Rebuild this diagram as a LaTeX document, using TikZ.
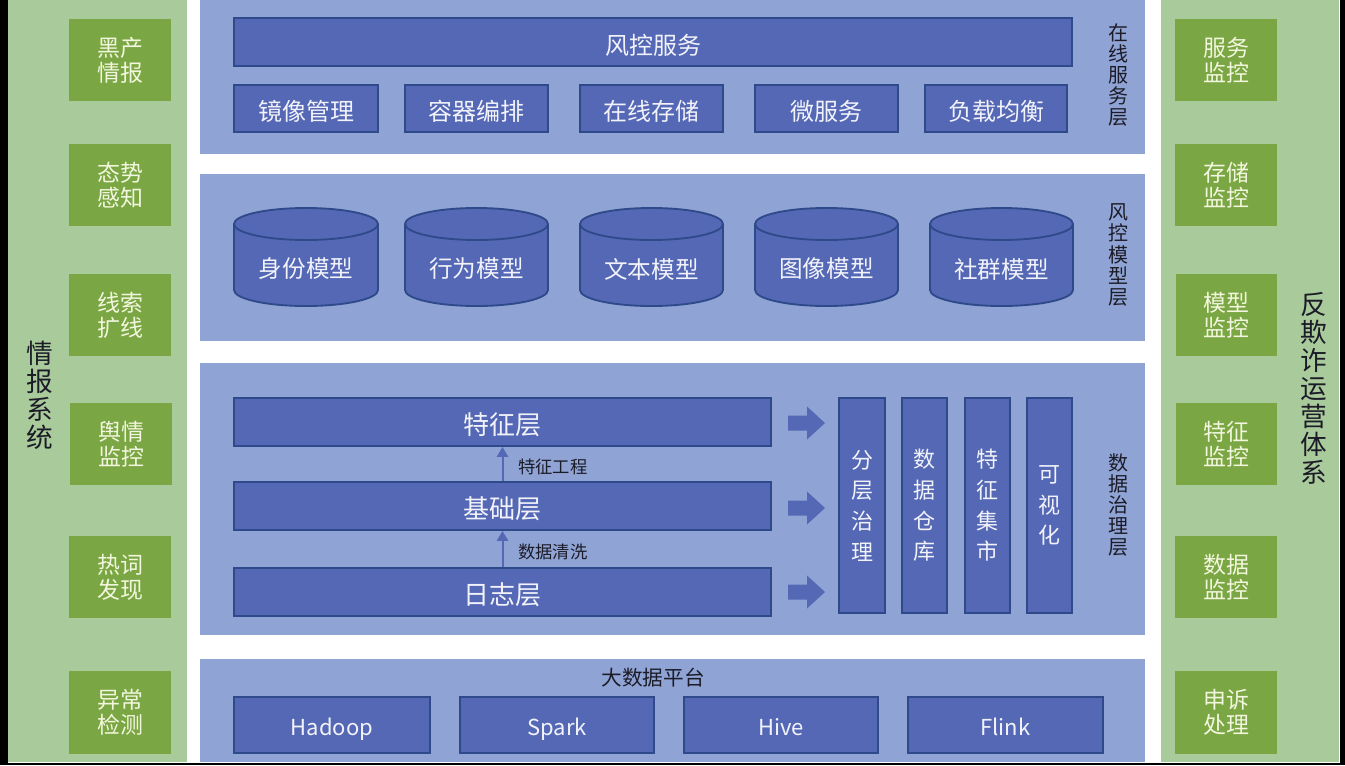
\documentclass[tikz,border=0pt]{standalone}
\usepackage{fontspec}
\setmainfont{Noto Sans CJK SC}
\usetikzlibrary{arrows.meta}
\definecolor{panelblue}{HTML}{8FA3D4}
\definecolor{boxblue}{HTML}{5568B5}
\definecolor{edgeblue}{HTML}{2F4A8A}
\definecolor{panelgreen}{HTML}{A9CA9A}
\definecolor{boxgreen}{HTML}{7AA743}
\definecolor{gtext}{HTML}{F3F6DE}
\definecolor{btext}{HTML}{F2F3FA}
\definecolor{ltext}{HTML}{1C1C28}
\newcommand\rbox[7]{\node[#1, minimum width={(#5-#3)*0.75pt}, minimum height={(#6-#4)*0.75pt}] (#2) at ({(#3+#5)/2},{(#4+#6)/2}) {#7};}
\newcommand\cyl[4]{%
  \filldraw[cylst] (#2,224) -- (#2,290) arc[start angle=180,end angle=0,x radius={(#3-#2)/2},y radius=16] -- (#3,224) arc[start angle=0,end angle=-180,x radius={(#3-#2)/2},y radius=16] -- cycle;
  \draw[cylst,fill=none] (#2,224) arc[start angle=180,end angle=0,x radius={(#3-#2)/2},y radius=16];
  \node[cyltext] (#1) at ({(#2+#3)/2},269) {#4};}
\newcommand\barrow[2]{%
  \fill[boxblue] (788,#2-7.5) -- (807,#2-7.5) -- (807,#2-16.5) -- (825,#2) -- (807,#2+16.5) -- (807,#2+7.5) -- (788,#2+7.5) -- cycle;
  \coordinate (#1) at (806,#2);}
\begin{document}
\begin{tikzpicture}[x=0.75pt,y=-0.75pt,
  panel/.style={fill=panelblue,draw=none,inner sep=0},
  gpanel/.style={fill=panelgreen,draw=none,inner sep=0},
  bbase/.style={fill=boxblue,draw=edgeblue,line width=1.4pt,text=btext,inner sep=0},
  bbox/.style={bbase,font=\fontsize{18}{20}\selectfont,text height=18.2pt,text depth=0pt},
  tbox/.style={bbase,font=\fontsize{19.5}{22}\selectfont,text height=19.3pt,text depth=0pt},
  vbox/.style={bbase,align=center,font=\fontsize{16.5}{23}\selectfont},
  lbox/.style={bbase,font=\fontsize{16.5}{20}\selectfont,text height=15pt,text depth=0pt},
  gbox/.style={fill=boxgreen,text=gtext,inner sep=0,align=center,font=\fontsize{17.2}{19}\selectfont},
  vlabel/.style={text=ltext,inner sep=0,align=center,font=\fontsize{15}{15.8}\selectfont},
  biglabel/.style={text=ltext,inner sep=0,align=center,font=\fontsize{20}{21}\selectfont},
  smalllabel/.style={text=ltext,inner sep=0,font=\fontsize{13}{15}\selectfont},
  cylst/.style={fill=boxblue,draw=edgeblue,line width=1.4pt},
  cyltext/.style={text=btext,inner sep=0,font=\fontsize{17.7}{20}\selectfont},
  uparrow/.style={draw=boxblue,line width=1.5pt,-{Triangle[width=8.5pt,length=7.5pt]}}]
\useasboundingbox (0,0) rectangle (1345,765);
\fill[white] (0,0) rectangle (1345,765);
% side panels
\rbox{gpanel}{leftpanel}{7.5}{0}{187}{762}{}
\rbox{gpanel}{rightpanel}{1161}{0}{1339}{762}{}
% blue panels
\rbox{panel}{p1}{200}{0}{1145}{154}{}
\rbox{panel}{p2}{200}{174}{1145}{341}{}
\rbox{panel}{p3}{200}{363}{1145}{635}{}
\rbox{panel}{p4}{200}{659}{1145}{762}{}
% black frame edges
\fill[black] (0,0) rectangle (7.5,765);
\fill[black] (1339.5,0) rectangle (1345,765);
\fill[black] (0,762.5) rectangle (1345,765);
% side labels
\node[biglabel] (lefttitle) at (40,395) {情\\报\\系\\统};
\node[biglabel] (righttitle) at (1314,388) {反\\欺\\诈\\运\\营\\体\\系};
% left green boxes
\rbox{gbox}{g1}{69}{19}{171}{101}{黑产\\情报}
\rbox{gbox}{g2}{69}{144}{171}{226}{态势\\感知}
\rbox{gbox}{g3}{69}{274}{171}{356}{线索\\扩线}
\rbox{gbox}{g4}{70}{403}{172}{485}{舆情\\监控}
\rbox{gbox}{g5}{69}{536}{171}{618}{热词\\发现}
\rbox{gbox}{g6}{69}{671}{171}{754}{异常\\检测}
% right green boxes
\rbox{gbox}{r1}{1175}{19}{1277}{101}{服务\\监控}
\rbox{gbox}{r2}{1175}{144}{1277}{226}{存储\\监控}
\rbox{gbox}{r3}{1176}{274}{1277}{356}{模型\\监控}
\rbox{gbox}{r4}{1176}{403}{1277}{485}{特征\\监控}
\rbox{gbox}{r5}{1175}{536}{1277}{618}{数据\\监控}
\rbox{gbox}{r6}{1175}{671}{1277}{754}{申诉\\处理}
% online service layer
\rbox{bbox}{svc}{234}{18}{1072}{66}{风控服务}
\rbox{bbox}{s1}{234}{85}{378}{132}{镜像管理}
\rbox{bbox}{s2}{405}{85}{548}{132}{容器编排}
\rbox{bbox}{s3}{580}{85}{723}{132}{在线存储}
\rbox{bbox}{s4}{755}{85}{898}{132}{微服务}
\rbox{bbox}{s5}{925}{85}{1067}{132}{负载均衡}
\node[vlabel] (l1) at (1118,75) {在\\线\\服\\务\\层};
% model layer
\cyl{m1}{234}{378}{身份模型}
\cyl{m2}{405}{548}{行为模型}
\cyl{m3}{580}{723}{文本模型}
\cyl{m4}{755}{898}{图像模型}
\cyl{m5}{930}{1073}{社群模型}
\node[vlabel] (l2) at (1118,255) {风\\控\\模\\型\\层};
% data governance layer
\rbox{tbox}{tz}{234}{398}{771}{446}{特征层}
\rbox{tbox}{jc}{234}{482}{771}{530}{基础层}
\rbox{tbox}{rz}{234}{568}{771}{616}{日志层}
\draw[uparrow] (jc.north) -- (tz.south);
\draw[uparrow] (rz.north) -- (jc.south);
\node[smalllabel,anchor=west] (e1) at (518,467) {特征工程};
\node[smalllabel,anchor=west] (e2) at (518,552) {数据清洗};
\barrow{a1}{423}
\barrow{a2}{508}
\barrow{a3}{592}
\rbox{vbox}{v1}{839}{398}{885}{613}{分\\层\\治\\理}
\rbox{vbox}{v2}{902}{398}{947}{613}{数\\据\\仓\\库}
\rbox{vbox}{v3}{965}{398}{1010}{613}{特\\征\\集\\市}
\rbox{vbox}{v4}{1027}{398}{1072}{613}{可\\视\\化}
\node[vlabel] (l3) at (1118,505) {数\\据\\治\\理\\层};
% big data platform
\node[vlabel,font=\fontsize{15.5}{17}\selectfont] (bd) at (653,678) {大数据平台};
\rbox{lbox}{b1}{234}{697}{430}{753}{Hadoop}
\rbox{lbox}{b2}{460}{697}{654}{753}{Spark}
\rbox{lbox}{b3}{684}{697}{878}{753}{Hive}
\rbox{lbox}{b4}{908}{697}{1103}{753}{Flink}
\end{tikzpicture}
\end{document}
